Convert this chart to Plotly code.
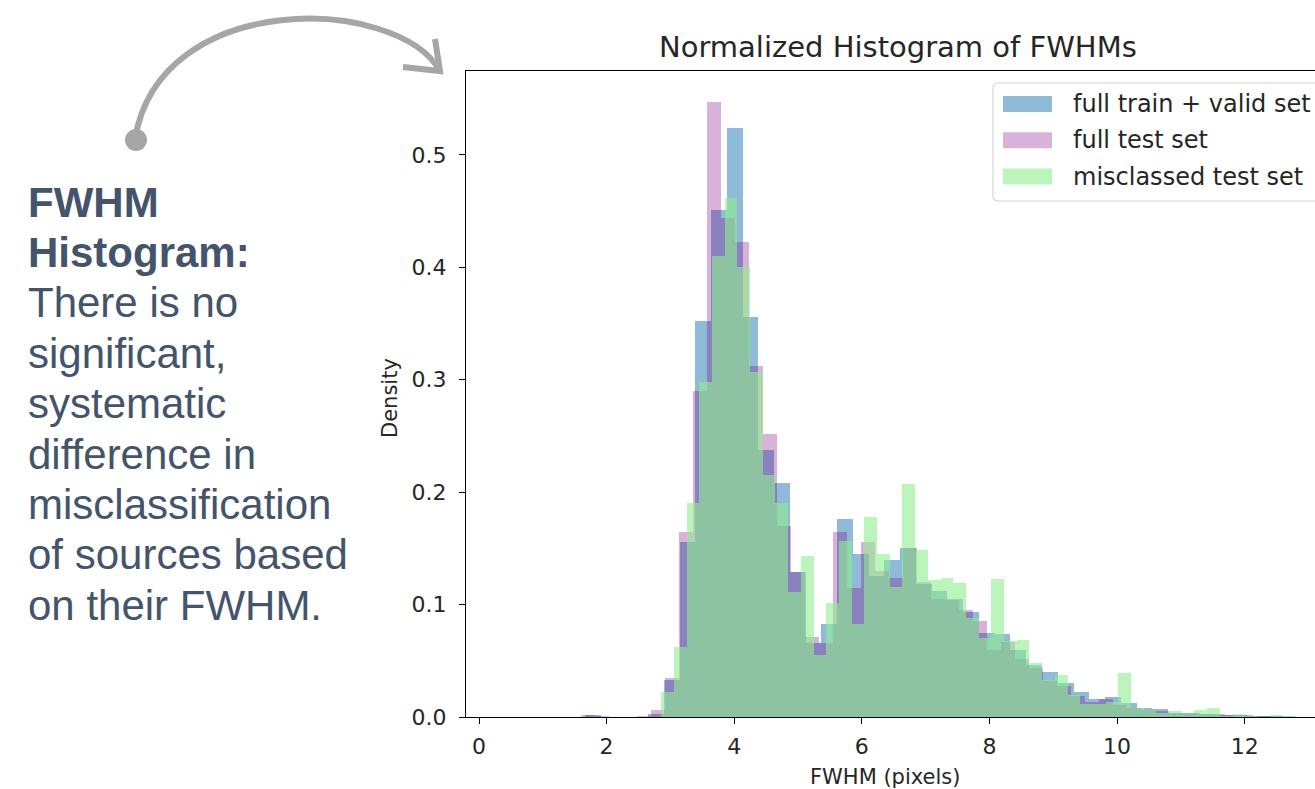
import plotly.graph_objects as go

# ---------------- data ----------------
blue_name = "full train + valid set"
blue_start = 0.426
blue_width = 0.247
blue_heights = [0, 0, 0, 0, 0, 0.002, 0, 0, 0, 0.003, 0.033, 0.156, 0.352, 0.451,
                0.524, 0.356, 0.2375, 0.2085, 0.129, 0.066, 0.083, 0.176, 0.145,
                0.125, 0.140, 0.150, 0.118, 0.112, 0.105, 0.093, 0.075, 0.0735,
                0.060, 0.046, 0.040, 0.030, 0.022, 0.016, 0.0175, 0.0127, 0.008,
                0.007, 0.004, 0.004, 0.003, 0.002, 0.002, 0.001, 0.001, 0.001]

pink_name = "full test set"
pink_start = 1.6034
pink_width = 0.2194
pink_heights = [0.002, 0.001, 0, 0, 0.001, 0.006, 0.035, 0.165, 0.29, 0.547,
                0.4436, 0.423, 0.3125, 0.252, 0.17, 0.129, 0.0715, 0.066, 0.165,
                0.115, 0.156, 0.13, 0.124, 0.15, 0.12, 0.105, 0.104, 0.095, 0.085,
                0.06, 0.067, 0.052, 0.044, 0.032, 0.028, 0.019, 0.013, 0.016,
                0.011, 0.008, 0.006, 0.005, 0.004, 0.004, 0.003, 0.003, 0.002,
                0.002, 0.001, 0.001]

green_name = "misclassed test set"
green_start = 2.856
green_width = 0.199
green_heights = [0.022, 0.062, 0.19, 0.298, 0.41, 0.462, 0.40, 0.307, 0.215, 0.19,
                 0.111, 0.143, 0.055, 0.101, 0.157, 0.083, 0.1775, 0.145, 0.116,
                 0.207, 0.1485, 0.122, 0.124, 0.1195, 0.088, 0.07, 0.123, 0.068,
                 0.0685, 0.048, 0.033, 0.0374, 0.02, 0.012, 0.012, 0.013, 0.039,
                 0.008, 0.006, 0.004, 0.005, 0.004, 0.006, 0.008, 0.001, 0.003,
                 0.001, 0, 0.002, 0.001]

x_ticks = [0, 2, 4, 6, 8, 10, 12]
y_ticks = [0.0, 0.1, 0.2, 0.3, 0.4, 0.5]
y_tick_text = ["0.0", "0.1", "0.2", "0.3", "0.4", "0.5"]

title_text = "Normalized Histogram of FWHMs"
x_label = "FWHM (pixels)"
y_label = "Density"
side_lines = [("FWHM", True), ("Histogram:", True), ("There is no", False),
              ("significant,", False), ("systematic", False), ("difference in", False),
              ("misclassification", False), ("of sources based", False),
              ("on their FWHM.", False)]

# ---------------- styles ----------------
blue_col = "rgba(31,119,180,0.5)"
pink_col = "rgba(128,0,128,0.3)"
green_col = "rgba(144,238,144,0.6)"
text_col = "#44546A"
arrow_col = "#A6A6A6"

W, H = 1315, 789
L, R, T, B = 466, 1315, 71, 717


def px(xp):
    return (xp - L) / (R - L)


def py(yp):
    return (B - yp) / (B - T)


fig = go.Figure()
for name, start, width, heights, col in [
        (blue_name, blue_start, blue_width, blue_heights, blue_col),
        (pink_name, pink_start, pink_width, pink_heights, pink_col),
        (green_name, green_start, green_width, green_heights, green_col)]:
    centers = [start + width * (i + 0.5) for i in range(len(heights))]
    fig.add_trace(go.Bar(x=centers, y=heights, width=[width] * len(heights),
                         marker=dict(color=col, line=dict(width=0)),
                         name=name, showlegend=False, hoverinfo="x+y"))

shapes = []
annotations = []

# custom legend
lx0, lx1, ly0, ly1, rr = 993, 1330, 83, 201, 5
path = (f"M {px(lx0+rr)},{py(ly0)} L {px(lx1-rr)},{py(ly0)} "
        f"Q {px(lx1)},{py(ly0)} {px(lx1)},{py(ly0+rr)} L {px(lx1)},{py(ly1-rr)} "
        f"Q {px(lx1)},{py(ly1)} {px(lx1-rr)},{py(ly1)} L {px(lx0+rr)},{py(ly1)} "
        f"Q {px(lx0)},{py(ly1)} {px(lx0)},{py(ly1-rr)} L {px(lx0)},{py(ly0+rr)} "
        f"Q {px(lx0)},{py(ly0)} {px(lx0+rr)},{py(ly0)} Z")
shapes.append(dict(type="path", xref="paper", yref="paper", path=path,
                   fillcolor="rgba(255,255,255,0.8)", line=dict(color="#D5D5D5", width=1.2),
                   layer="above"))
for i, (name, col) in enumerate([(blue_name, blue_col), (pink_name, pink_col),
                                 (green_name, green_col)]):
    cy = 104 + 36.3 * i
    shapes.append(dict(type="rect", xref="paper", yref="paper",
                       x0=px(1003), x1=px(1052), y0=py(cy - 8), y1=py(cy + 8),
                       fillcolor=col, line=dict(width=0), layer="above"))
    annotations.append(dict(text=name, xref="paper", yref="paper", x=px(1071), y=py(cy),
                            xanchor="left", yanchor="middle", showarrow=False,
                            font=dict(family="DejaVu Sans", size=24, color="#262626")))

# title and axis labels
annotations.append(dict(text=title_text, xref="paper", yref="paper", x=px(898), y=py(47),
                        xanchor="center", yanchor="middle", showarrow=False,
                        font=dict(family="DejaVu Sans", size=29, color="#262626")))
annotations.append(dict(text=x_label, xref="paper", yref="paper", x=px(885), y=py(777),
                        xanchor="center", yanchor="middle", showarrow=False,
                        font=dict(family="DejaVu Sans", size=21, color="#262626")))
annotations.append(dict(text=y_label, xref="paper", yref="paper", x=px(390), y=py(398),
                        xanchor="center", yanchor="middle", showarrow=False, textangle=-90,
                        font=dict(family="DejaVu Sans", size=21, color="#262626")))

# left explanatory text
for i, (line, bold) in enumerate(side_lines):
    cy = 202 + 50.4 * i
    annotations.append(dict(text=f"<b>{line}</b>" if bold else line, xref="paper", yref="paper",
                            x=px(26), y=py(cy), xanchor="left", yanchor="middle",
                            showarrow=False,
                            font=dict(family="Liberation Sans", size=42, color=text_col)))

# curved arrow
shapes.append(dict(type="path", xref="paper", yref="paper",
                   path=(f"M {px(135)},{py(139)} C {px(160)},{py(-12)} {px(398)},{py(-4)} "
                         f"{px(440)},{py(71)}"),
                   line=dict(color=arrow_col, width=6)))
shapes.append(dict(type="path", xref="paper", yref="paper",
                   path=(f"M {px(403)},{py(67)} L {px(440)},{py(71)} L {px(435)},{py(39)}"),
                   line=dict(color=arrow_col, width=6)))
shapes.append(dict(type="circle", xref="paper", yref="paper",
                   x0=px(125), x1=px(147), y0=py(129), y1=py(151),
                   fillcolor=arrow_col, line=dict(width=0)))

fig.update_layout(
    width=W, height=H,
    margin=dict(l=L, r=W - R, t=T, b=H - B, pad=0),
    barmode="overlay", bargap=0,
    plot_bgcolor="white", paper_bgcolor="white",
    shapes=shapes, annotations=annotations,
    showlegend=False,
    xaxis=dict(range=[-0.2038, 13.103], tickvals=x_ticks, showgrid=False, zeroline=False,
               showline=True, mirror=True, linecolor="black", linewidth=1.3,
               ticks="outside", ticklen=6, tickwidth=1.3, tickcolor="black",
               ticklabelstandoff=3,
               tickfont=dict(family="DejaVu Sans", size=22, color="#262626")),
    yaxis=dict(range=[0, 0.5747], tickvals=y_ticks, ticktext=y_tick_text, showgrid=False,
               zeroline=False, showline=True, mirror=False, linecolor="black", linewidth=1.3,
               ticks="outside", ticklen=6, tickwidth=1.3, tickcolor="black",
               ticklabelstandoff=8,
               tickfont=dict(family="DejaVu Sans", size=22, color="#262626")),
)

fig.write_html("out.html", config={"displayModeBar": False},
               post_script="document.body.style.margin='0px';")
